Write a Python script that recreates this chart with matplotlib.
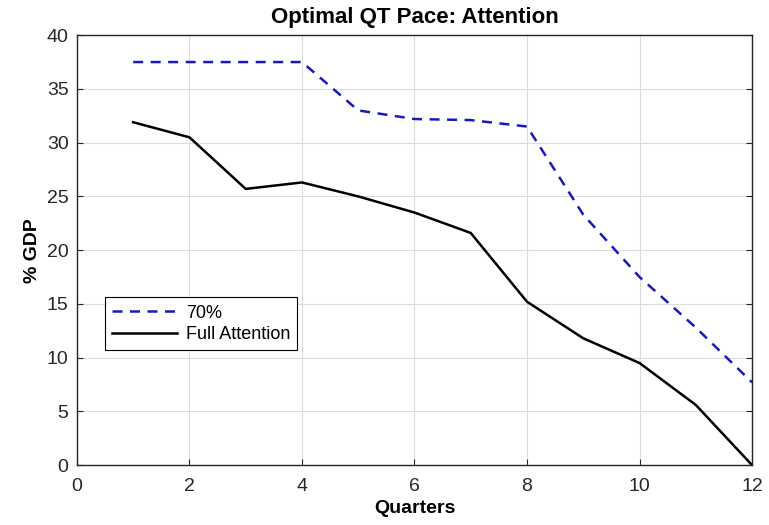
import numpy as np
import matplotlib
matplotlib.use('Agg')
import matplotlib.pyplot as plt

# data
quarters = [1, 2, 3, 4, 5, 6, 7, 8, 9, 10, 11, 12]
pace_70 = [37.5, 37.5, 37.5, 37.5, 33.0, 32.2, 32.1, 31.5, 23.3, 17.5, 12.8, 7.7]
pace_full = [31.9, 30.5, 25.7, 26.3, 25.0, 23.5, 21.6, 15.2, 11.8, 9.5, 5.6, 0.0]
xticks = [0, 2, 4, 6, 8, 10, 12]
yticks = [0, 5, 10, 15, 20, 25, 30, 35, 40]

plt.rcParams['font.family'] = ['Liberation Sans', 'DejaVu Sans']

fig = plt.figure(figsize=(7.69, 5.25), dpi=100)
ax = fig.add_axes([0.100, 0.114, 0.878, 0.819])

ax.plot(quarters, pace_70, color='#1a1ab8', linestyle=(0, (4, 3)), linewidth=1.8, label='70%')
ax.plot(quarters, pace_full, color='black', linewidth=1.8, label='Full Attention')

ax.set_xlim(0, 12)
ax.set_ylim(0, 40)
ax.set_xticks(xticks)
ax.set_yticks(yticks)
ax.tick_params(direction='in', top=False, right=True, labelsize=14, colors='#262626', length=4)
ax.tick_params(axis='x', pad=9)
ax.tick_params(axis='y', pad=6)
ax.grid(True, color='#dcdcdc', linewidth=0.8)
ax.set_axisbelow(True)
for s in ax.spines.values():
    s.set_linewidth(1.0)
    s.set_color('#262626')

ax.set_title('Optimal QT Pace: Attention', fontsize=16, fontweight='bold', pad=9)
ax.set_xlabel('Quarters', fontsize=14, fontweight='bold', labelpad=4)
ax.set_ylabel('% GDP', fontsize=14, fontweight='bold', labelpad=4)

leg = ax.legend(loc='lower left', bbox_to_anchor=(0.041, 0.267), borderaxespad=0, fontsize=13,
                frameon=True, fancybox=False, edgecolor='black', framealpha=1,
                handlelength=3.6, handletextpad=0.5, borderpad=0.4, labelspacing=0.25)
leg.get_frame().set_linewidth(0.8)

fig.savefig('out.png', dpi=100)
